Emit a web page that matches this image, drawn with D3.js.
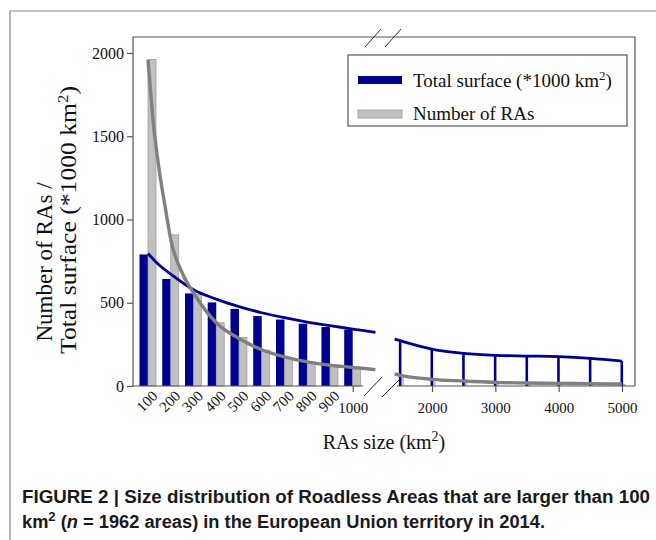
<!DOCTYPE html>
<html><head><meta charset="utf-8">
<script src="https://cdn.jsdelivr.net/npm/d3@7"></script>
<style>
body{margin:0;background:#fff;}
svg{display:block;}
.serif{font-family:"Liberation Serif","Times New Roman",serif;}
</style></head>
<body>
<svg id="chart" width="656" height="540"></svg>
<script>
// ---- data ----
const sizesLeft = [100,200,300,400,500,600,700,800,900,1000];
const surfaceLeft = [790,643,556,502,463,420,399,374,354,338];
const countLeft = [1962,908,549,380,292,216,170,136,116,100];
const sizesRight = [1500,2000,2500,3000,3500,4000,4500,5000];
const surfaceRight = [272,222,196,184,180,176,166,150];
const countRight = [52,38,28,22,18,15,13,12];
const surfaceTrendLeft = [[100,796],[150,725],[200,672],[300,578],[400,522],[500,477],[600,440],[700,410],[800,384],[900,362],[1000,342],[1100,322]];
const countTrendLeft = [[100,1960],[125,1560],[150,1290],[175,1080],[200,880],[250,680],[300,560],[400,380],[500,285],[600,218],[700,175],[800,145],[900,125],[1000,112],[1100,98]];
const surfaceTrendRight = [[1410,282],[1500,272],[2000,222],[2500,196],[3000,184],[3500,180],[4000,176],[4500,166],[5000,150]];
const countTrendRight = [[1410,72],[1500,64],[2000,40],[2500,30],[3000,22],[3500,18],[4000,16],[4500,14],[5000,12]];
const yTicks = [0,500,1000,1500,2000];
const xTicksLeft = [100,200,300,400,500,600,700,800,900];
const xTicksRight = [1000,2000,3000,4000,5000];

const BLUE = "#000090", GRAY_BAR = "#c0c0c0", GRAY_LINE = "#808080", AXIS = "#555";
const SERIF = "'Liberation Serif','Times New Roman',serif";
const fmt = d3.format("d");

const svg = d3.select("#chart");
const plot = {left:133, top:37, right:635, bottom:386};

// outer frame
svg.append("path").attr("d","M10,540V11H656").attr("fill","none").attr("stroke","#8a8a8a").attr("stroke-width",1.2);

const y = d3.scaleLinear().domain([0,2000]).range([plot.bottom, 53]);
const xL = d3.scaleLinear().domain([100,1000]).range([148,352.7]);
const xR = d3.scaleLinear().domain([2000,5000]).range([432,622]);

// plot box top/right
svg.append("path").attr("d",`M${plot.left},${plot.bottom}V${plot.top}H${plot.right}V${plot.bottom}`)
  .attr("fill","none").attr("stroke",AXIS).attr("stroke-width",1.2);

// bars left
const gL = svg.append("g");
const bw = 8.5, gw = 8;
gL.selectAll(".b").data(sizesLeft).join("rect")
  .attr("x",d=>xL(d)-bw).attr("width",bw)
  .attr("y",(d,i)=>y(surfaceLeft[i])).attr("height",(d,i)=>y(0)-y(surfaceLeft[i]))
  .attr("fill",BLUE);
gL.selectAll(".g").data(sizesLeft).join("rect")
  .attr("x",d=>xL(d)).attr("width",gw)
  .attr("y",(d,i)=>y(countLeft[i])).attr("height",(d,i)=>y(0)-y(countLeft[i]))
  .attr("fill",GRAY_BAR).attr("stroke","#999").attr("stroke-width",0.7);

// bars right
const gR = svg.append("g");
gR.selectAll(".g").data(sizesRight).join("rect")
  .attr("x",d=>xR(d)+1).attr("width",2.6)
  .attr("y",(d,i)=>y(countRight[i])).attr("height",(d,i)=>y(0)-y(countRight[i]))
  .attr("fill",GRAY_BAR);
gR.selectAll(".b").data(sizesRight).join("rect")
  .attr("x",d=>xR(d)-1.5).attr("width",2.6)
  .attr("y",(d,i)=>y(surfaceRight[i])).attr("height",(d,i)=>y(0)-y(surfaceRight[i]))
  .attr("fill",BLUE);

// trend curves
const lineL = d3.line().x(d=>xL(d[0])).y(d=>y(d[1])).curve(d3.curveMonotoneX);
const lineR = d3.line().x(d=>xR(d[0])).y(d=>y(d[1])).curve(d3.curveMonotoneX);
svg.append("path").attr("d",lineL(surfaceTrendLeft)).attr("fill","none").attr("stroke",BLUE).attr("stroke-width",2.8);
svg.append("path").attr("d",lineL(countTrendLeft)).attr("fill","none").attr("stroke",GRAY_LINE).attr("stroke-width",3.4);
svg.append("path").attr("d",lineR(surfaceTrendRight)).attr("fill","none").attr("stroke",BLUE).attr("stroke-width",2.8);
svg.append("path").attr("d",lineR(countTrendRight)).attr("fill","none").attr("stroke",GRAY_LINE).attr("stroke-width",3.4);

function styleAxis(g, size){
  g.attr("font-family",SERIF).attr("font-size",size);
  g.select(".domain").remove();
  g.selectAll("line").attr("stroke",AXIS).attr("stroke-width",1.2);
  g.selectAll("text").attr("fill","#111");
}

// y axis
const yAxis = svg.append("g").attr("transform",`translate(${plot.left},0)`)
  .call(d3.axisLeft(y).tickValues(yTicks).tickFormat(fmt).tickSize(6).tickSizeOuter(0).tickPadding(3));
styleAxis(yAxis, 16);

// x axis line segments
svg.append("line").attr("x1",plot.left).attr("x2",363).attr("y1",plot.bottom).attr("y2",plot.bottom).attr("stroke",AXIS).attr("stroke-width",1.2);
svg.append("line").attr("x1",397).attr("x2",plot.right).attr("y1",plot.bottom).attr("y2",plot.bottom).attr("stroke",AXIS).attr("stroke-width",1.2);

const xaL = svg.append("g").attr("transform",`translate(0,${plot.bottom})`)
  .call(d3.axisBottom(xL).tickValues(xTicksLeft).tickFormat(fmt).tickSize(0).tickSizeOuter(0));
styleAxis(xaL, 15);
xaL.selectAll("text").attr("text-anchor","end").attr("dy",null).attr("y",null)
  .attr("transform","translate(10,11) rotate(-45)");

const xaL2 = svg.append("g").attr("transform",`translate(0,${plot.bottom})`)
  .call(d3.axisBottom(xL).tickValues([1000]).tickFormat(fmt).tickSize(6).tickSizeOuter(0).tickPadding(10));
styleAxis(xaL2, 15);

const xaR = svg.append("g").attr("transform",`translate(0,${plot.bottom})`)
  .call(d3.axisBottom(xR).tickValues(xTicksRight.slice(1)).tickFormat(fmt).tickSize(6).tickSizeOuter(0).tickPadding(10));
styleAxis(xaR, 15);

// break marks
const brk = [[364,396,382,377],[382,397,399,380],[365,47,381,29],[385,47,401,29]];
svg.selectAll(".brk").data(brk).join("line")
  .attr("x1",d=>d[0]).attr("y1",d=>d[1]).attr("x2",d=>d[2]).attr("y2",d=>d[3])
  .attr("stroke","#333").attr("stroke-width",1);

// legend
const lg = svg.append("g");
lg.append("rect").attr("x",348).attr("y",55).attr("width",279).attr("height",71)
  .attr("fill","#fff").attr("stroke",AXIS).attr("stroke-width",1.2);
lg.append("rect").attr("x",358).attr("y",76).attr("width",44).attr("height",8).attr("fill",BLUE);
lg.append("rect").attr("x",358).attr("y",110).attr("width",44).attr("height",8).attr("fill",GRAY_BAR).attr("stroke","#999").attr("stroke-width",0.8);
const t1 = lg.append("text").attr("class","serif").attr("x",413).attr("y",87).style("font-size","19px").attr("fill","#111");
t1.append("tspan").text("Total surface (*1000 km");
t1.append("tspan").attr("dy",-7).style("font-size","13px").text("2");
t1.append("tspan").attr("dy",7).text(")");
lg.append("text").attr("class","serif").attr("x",413).attr("y",120).style("font-size","19px").attr("fill","#111").text("Number of RAs");

// axis titles
svg.append("text").attr("class","serif").attr("transform","translate(52,262) rotate(-90)")
  .attr("text-anchor","middle").style("font-size","23px").attr("fill","#111").text("Number of RAs /");
const yt2 = svg.append("text").attr("class","serif").attr("transform","translate(76,220) rotate(-90)")
  .attr("text-anchor","middle").style("font-size","23px").attr("fill","#111")
  .attr("textLength",268).attr("lengthAdjust","spacingAndGlyphs");
yt2.append("tspan").text("Total surface (*1000 km");
yt2.append("tspan").attr("dy",-8).style("font-size","15px").text("2");
yt2.append("tspan").attr("dy",8).text(")");

const xt = svg.append("text").attr("class","serif").attr("x",384).attr("y",449)
  .attr("text-anchor","middle").style("font-size","20px").attr("fill","#111");
xt.append("tspan").text("RAs size (km");
xt.append("tspan").attr("dy",-8).style("font-size","14px").text("2");
xt.append("tspan").attr("dy",8).text(")");

// caption
const cap = svg.append("g").style("font-family","'Liberation Sans',Arial,sans-serif").style("font-weight","bold").attr("fill","#1a1a1a");
cap.append("text").attr("x",22).attr("y",503).style("font-size","18px")
  .attr("textLength",628).attr("lengthAdjust","spacingAndGlyphs")
  .text("FIGURE 2 | Size distribution of Roadless Areas that are larger than 100");
const c2 = cap.append("text").attr("x",22).attr("y",528).style("font-size","18px")
  .attr("textLength",523).attr("lengthAdjust","spacingAndGlyphs");
c2.append("tspan").text("km");
c2.append("tspan").attr("dy",-7).style("font-size","13px").text("2");
c2.append("tspan").attr("dy",7).text(" (");
c2.append("tspan").style("font-style","italic").text("n");
c2.append("tspan").text(" = 1962 areas) in the European Union territory in 2014.");
</script>
</body></html>
